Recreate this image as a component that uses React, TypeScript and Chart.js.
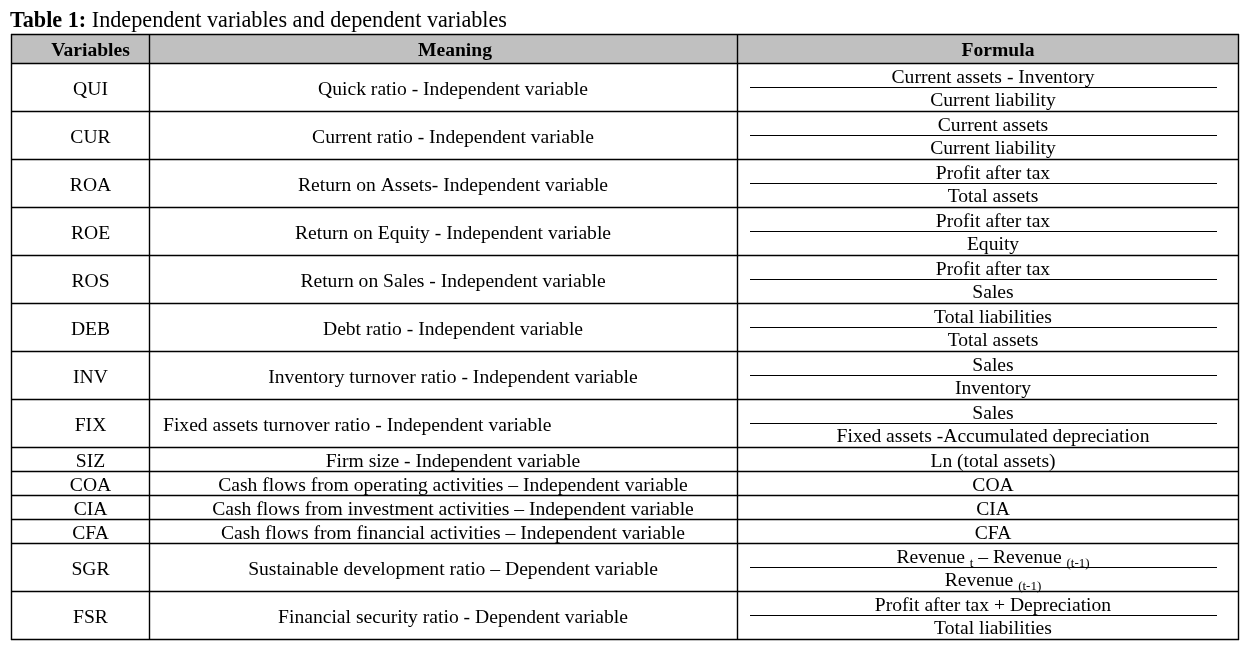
import React, { useEffect, useRef } from "react";
import { Chart, registerables } from "chart.js";

Chart.register(...registerables);

// ---------- data ----------
const titleBold = "Table 1:";
const titleRest = " Independent variables and dependent variables";
const headers = ["Variables", "Meaning", "Formula"];
const variables = ["QUI", "CUR", "ROA", "ROE", "ROS", "DEB", "INV", "FIX", "SIZ", "COA", "CIA", "CFA", "SGR", "FSR"];
const meanings = [
  "Quick ratio - Independent variable",
  "Current ratio - Independent variable",
  "Return on Assets- Independent variable",
  "Return on Equity - Independent variable",
  "Return on Sales - Independent variable",
  "Debt ratio - Independent variable",
  "Inventory turnover ratio - Independent variable",
  "Fixed assets turnover ratio - Independent variable",
  "Firm size - Independent variable",
  "Cash flows from operating activities \u2013 Independent variable",
  "Cash flows from investment activities \u2013 Independent variable",
  "Cash flows from financial activities \u2013 Independent variable",
  "Sustainable development ratio \u2013 Dependent variable",
  "Financial security ratio - Dependent variable",
];
// {..} marks a subscript
const numerators = [
  "Current assets - Inventory",
  "Current assets",
  "Profit after tax",
  "Profit after tax",
  "Profit after tax",
  "Total liabilities",
  "Sales",
  "Sales",
  "Ln (total assets)",
  "COA",
  "CIA",
  "CFA",
  "Revenue {t} \u2013 Revenue {(t-1)}",
  "Profit after tax + Depreciation",
];
const denominators = [
  "Current liability",
  "Current liability",
  "Total assets",
  "Equity",
  "Sales",
  "Total assets",
  "Inventory",
  "Fixed assets -Accumulated depreciation",
  "",
  "",
  "",
  "",
  "Revenue {(t-1)}",
  "Total liabilities",
];
const leftAlignedMeanings = ["FIX"];

// ---------- layout ----------
const W = 1249;
const H = 647;
const COLS = [11, 149, 737, 1238];
const TABLE_TOP = 34;
const HEADER_BOTTOM = 63;
const LINE_H = 24;
const HEADER_CENTERS = [90.5, 455, 998];
const CELL_CENTERS = [90.5, 453, 993];
const FRAC_X0 = 750;
const FRAC_X1 = 1217;
const BODY_SIZE = 19.6;
const TITLE_SIZE = 22.2;
const FONT = '"Liberation Serif", "Times New Roman", serif';

function drawRich(ctx: CanvasRenderingContext2D, text: string, cx: number, baseline: number, size: number, align: "center" | "left") {
  const segs: { t: string; sub: boolean }[] = [];
  const re = /\{([^}]*)\}/g;
  let last = 0;
  let m: RegExpExecArray | null;
  while ((m = re.exec(text))) {
    if (m.index > last) segs.push({ t: text.slice(last, m.index), sub: false });
    segs.push({ t: m[1], sub: true });
    last = m.index + m[0].length;
  }
  if (last < text.length) segs.push({ t: text.slice(last), sub: false });
  const subSize = Math.round(size * 0.65);
  let total = 0;
  const widths = segs.map((s) => {
    ctx.font = `${s.sub ? subSize : size}px ${FONT}`;
    const w = ctx.measureText(s.t).width;
    total += w;
    return w;
  });
  let x = align === "center" ? cx - total / 2 : cx;
  ctx.textAlign = "left";
  ctx.textBaseline = "alphabetic";
  segs.forEach((s, i) => {
    ctx.font = `${s.sub ? subSize : size}px ${FONT}`;
    ctx.fillText(s.t, x, baseline + (s.sub ? 4 : 0));
    x += widths[i];
  });
}

const tablePlugin = {
  id: "tablePlugin",
  beforeDraw(chart: any) {
    const ctx = chart.ctx;
    ctx.save();
    ctx.fillStyle = "#ffffff";
    ctx.fillRect(0, 0, chart.width, chart.height);
    ctx.restore();
  },
  afterDraw(chart: any) {
    const ctx: CanvasRenderingContext2D = chart.ctx;
    const xs = chart.scales.x;
    const ys = chart.scales.y;
    const px = (v: number) => xs.getPixelForValue(v);
    const py = (v: number) => ys.getPixelForValue(v);

    // row geometry
    const tops: number[] = [];
    const heights: number[] = [];
    let y = HEADER_BOTTOM;
    variables.forEach((_, i) => {
      const h = denominators[i] ? LINE_H * 2 : LINE_H;
      tops.push(y);
      heights.push(h);
      y += h;
    });
    const bottom = y;

    ctx.save();
    // title
    ctx.fillStyle = "#000";
    ctx.textBaseline = "alphabetic";
    ctx.textAlign = "left";
    ctx.font = `bold ${TITLE_SIZE}px ${FONT}`;
    const tx = px(10);
    ctx.fillText(titleBold, tx, py(27));
    const bw = ctx.measureText(titleBold).width;
    ctx.font = `${TITLE_SIZE}px ${FONT}`;
    ctx.fillText(titleRest, tx + bw, py(27));

    // header background
    ctx.fillStyle = "#c0c0c0";
    ctx.fillRect(px(COLS[0]), py(TABLE_TOP), px(COLS[3]) - px(COLS[0]), py(HEADER_BOTTOM) - py(TABLE_TOP));

    // grid lines
    ctx.strokeStyle = "#000";
    ctx.lineWidth = 1.4;
    const hline = (yy: number, x0: number, x1: number) => {
      ctx.beginPath();
      ctx.moveTo(px(x0), Math.round(py(yy)) + 0.5);
      ctx.lineTo(px(x1), Math.round(py(yy)) + 0.5);
      ctx.stroke();
    };
    const vline = (xx: number, y0: number, y1: number) => {
      ctx.beginPath();
      ctx.moveTo(Math.round(px(xx)) + 0.5, py(y0));
      ctx.lineTo(Math.round(px(xx)) + 0.5, py(y1));
      ctx.stroke();
    };
    hline(TABLE_TOP, COLS[0], COLS[3] + 1);
    hline(HEADER_BOTTOM, COLS[0], COLS[3] + 1);
    tops.forEach((t, i) => hline(t + heights[i], COLS[0], COLS[3] + 1));
    COLS.forEach((c) => vline(c, TABLE_TOP, bottom + 1));

    // header text
    ctx.fillStyle = "#000";
    ctx.textAlign = "center";
    ctx.font = `bold ${BODY_SIZE}px ${FONT}`;
    headers.forEach((h, i) => {
      ctx.fillText(h, px(HEADER_CENTERS[i]), py((TABLE_TOP + HEADER_BOTTOM) / 2 + 7.5));
    });

    // body
    variables.forEach((v, i) => {
      const t = tops[i];
      const h = heights[i];
      const mid = t + h / 2;
      ctx.fillStyle = "#000";
      drawRich(ctx, v, px(CELL_CENTERS[0]), py(mid + 7.7), BODY_SIZE, "center");
      if (leftAlignedMeanings.includes(v)) {
        drawRich(ctx, meanings[i], px(163), py(mid + 7.7), BODY_SIZE, "left");
      } else {
        drawRich(ctx, meanings[i], px(CELL_CENTERS[1]), py(mid + 7.7), BODY_SIZE, "center");
      }
      if (denominators[i]) {
        drawRich(ctx, numerators[i], px(CELL_CENTERS[2]), py(t + 19.5), BODY_SIZE, "center");
        drawRich(ctx, denominators[i], px(CELL_CENTERS[2]), py(t + 43), BODY_SIZE, "center");
        ctx.strokeStyle = "#000";
        ctx.lineWidth = 1.2;
        hline(t + 23.5, FRAC_X0, FRAC_X1);
      } else {
        drawRich(ctx, numerators[i], px(CELL_CENTERS[2]), py(mid + 7.7), BODY_SIZE, "center");
      }
    });
    ctx.restore();
  },
};

export default function App() {
  const ref = useRef<HTMLCanvasElement | null>(null);
  useEffect(() => {
    if (!ref.current) return;
    const chart = new Chart(ref.current, {
      type: "scatter",
      data: { datasets: [] },
      options: {
        animation: false,
        responsive: false,
        devicePixelRatio: 1,
        layout: { padding: 0 },
        plugins: { legend: { display: false }, tooltip: { enabled: false } },
        scales: {
          x: { type: "linear", min: 0, max: W, display: false },
          y: { type: "linear", min: 0, max: H, reverse: true, display: false },
        },
      },
      plugins: [tablePlugin],
    });
    return () => chart.destroy();
  }, []);
  return (
    <div style={{ position: "absolute", left: 0, top: 0, width: W, height: H, background: "#fff" }}>
      <canvas ref={ref} width={W} height={H} style={{ display: "block", width: W, height: H }} />
    </div>
  );
}
